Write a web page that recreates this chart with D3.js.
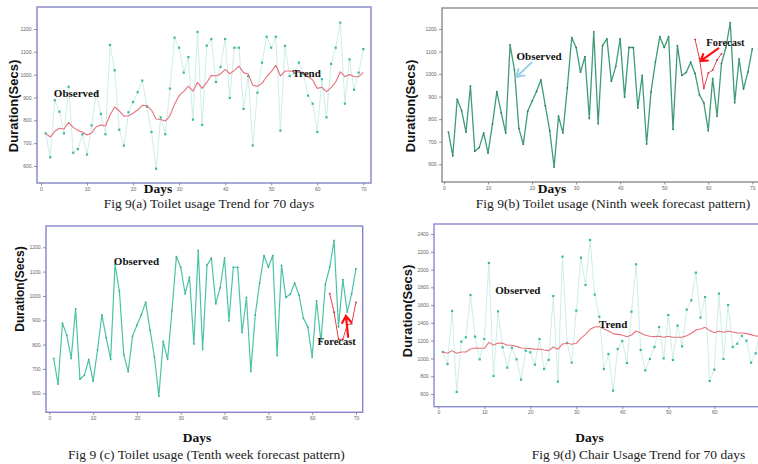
<!DOCTYPE html>
<html>
<head>
<meta charset="utf-8">
<script src="https://cdn.jsdelivr.net/npm/d3@7"></script>
<style>
  html, body { margin: 0; padding: 0; background: #ffffff; }
  svg { display: block; }
</style>
</head>
<body>
<svg id="chart" width="758" height="464"></svg>
<script>
// ---------------- DATA ----------------
const xTicks = [0, 10, 20, 30, 40, 50, 60, 70];
const toiletYTicks = [600, 700, 800, 900, 1000, 1100, 1200];
const chairYTicks = [600, 800, 1000, 1200, 1400, 1600, 1800, 2000, 2200, 2400];

// Toilet usage, days 1..70 (seconds)
const toiletObserved = [743,638,888,838,743,947,658,674,739,650,
  778,922,828,739,1130,1019,759,689,835,880,
  923,974,860,749,588,813,739,939,1162,1118,
  1009,1077,803,1187,780,1127,1156,968,1034,1156,
  898,1118,1118,850,994,690,921,1053,1166,1118,
  1166,755,1126,994,1007,1053,1003,908,873,749,
  980,813,1047,1118,1228,873,1067,934,1009,1112];

const toiletTrend = [743,727,752,765,762,791,769,756,749,736,
  745,772,780,775,823,858,841,818,820,831,
  845,866,864,845,806,804,797,820,870,908,
  927,950,928,966,940,966,997,994,1003,1023,
  1004,1019,1038,1009,1003,953,949,962,991,1013,
  1041,994,1016,1016,1012,1013,1009,991,977,940,
  945,926,943,968,1013,991,1001,991,991,1010];

// Ninth week forecast (days 57..63)
const ninthDays = [57, 58, 59, 60, 61, 62, 63];
const ninthForecast = [1154, 1070, 937, 1004, 1018, 1063, 1090];

// Tenth week forecast (days 64..70)
const tenthDays = [64, 65, 66, 67, 68, 69, 70];
const tenthForecast = [1010, 933, 822, 822, 881, 886, 974];

// Chair usage, days 1..70 (seconds)
const chairObserved = [1073,938,1534,623,1189,1238,1714,1245,990,1219,
  2074,803,1530,1125,896,1121,990,761,1088,1069,
  930,1219,881,983,1703,739,2145,1174,953,1538,
  2134,1826,2333,1718,1470,881,1050,638,1106,1196,
  949,1526,2059,1095,866,994,1129,1354,1001,1489,
  983,1369,1136,1549,1654,1965,1459,1691,746,874,
  1729,994,1601,1129,1166,1253,1200,953,1058,1350];

const chairTrend = [1073,1058,1088,1058,1073,1073,1106,1118,1114,1114,
  1181,1151,1174,1170,1148,1148,1136,1118,1114,1110,
  1103,1106,1095,1088,1129,1103,1163,1170,1159,1170,
  1226,1271,1328,1354,1358,1331,1309,1279,1271,1264,
  1245,1264,1309,1286,1260,1249,1245,1249,1238,1249,
  1238,1238,1238,1256,1283,1320,1331,1350,1313,1290,
  1309,1294,1309,1298,1286,1286,1279,1268,1253,1249];

// ---------------- DRAW ----------------
const W = 758;
const svg = d3.select("#chart");
const SERIF = "'Liberation Serif', 'Times New Roman', serif";
const SANS = "'Liberation Sans', Arial, sans-serif";

function panel(cfg) {
  const g = svg.append("g");
  const x = d3.scaleLinear().domain([0, 70]).range([cfg.x0, cfg.x70]);
  const y = d3.scaleLinear().domain([cfg.vA, cfg.vB]).range([cfg.yA, cfg.yB]);
  const f = cfg.frame;

  // frame
  g.append("rect")
    .attr("x", f.l).attr("y", f.t)
    .attr("width", f.r - f.l).attr("height", f.b - f.t)
    .attr("fill", "none")
    .attr("stroke", cfg.frameColor)
    .attr("stroke-width", 1.4);

  // axes (only ticks that fall inside the picture)
  const visibleX = xTicks.filter(t => x(t) < W - 4);
  const ya = g.append("g").attr("transform", `translate(${f.l},0)`)
    .call(d3.axisLeft(y).tickValues(cfg.yTicks).tickSize(3).tickPadding(1)
      .tickFormat(d => d + "."));
  const xa = g.append("g").attr("transform", `translate(0,${f.b})`)
    .call(d3.axisBottom(x).tickValues(visibleX).tickSize(2.5).tickPadding(1.5));
  [ya, xa].forEach(a => {
    a.select(".domain").remove();
    a.selectAll(".tick line").attr("stroke", "#777").attr("stroke-width", 0.8);
    a.selectAll(".tick text").attr("font-family", SANS).attr("font-size", 5)
      .attr("fill", "#666");
  });

  const line = d3.line().x((d, i) => x(i + 1)).y(d => y(d));
  const lineXY = d3.line().x(d => x(d[0])).y(d => y(d[1]));

  cfg.series.forEach(s => {
    g.append("path").datum(s.values)
      .attr("d", line)
      .attr("fill", "none")
      .attr("stroke", s.color)
      .attr("stroke-width", s.width)
      .attr("stroke-linejoin", "round");
    if (s.marker) {
      g.selectAll(null).data(s.values).enter().append("rect")
        .attr("x", (d, i) => x(i + 1) - s.marker.size / 2)
        .attr("y", d => y(d) - s.marker.size / 2)
        .attr("width", s.marker.size).attr("height", s.marker.size)
        .attr("fill", s.marker.color);
    }
  });

  if (cfg.forecast) {
    const pts = cfg.forecast.days.map((d, i) => [d, cfg.forecast.values[i]]);
    g.append("path").datum(pts)
      .attr("d", lineXY)
      .attr("fill", "none")
      .attr("stroke", "#e8404f")
      .attr("stroke-width", 1);
    g.selectAll(null).data(pts).enter().append("circle")
      .attr("cx", d => x(d[0])).attr("cy", d => y(d[1]))
      .attr("r", 0.9).attr("fill", "#d02838");
  }

  // annotation labels (positioned in data units)
  (cfg.labels || []).forEach(l => {
    g.append("text")
      .attr("x", x(l.day)).attr("y", y(l.value))
      .attr("text-anchor", "middle")
      .attr("dominant-baseline", "central")
      .attr("font-family", SERIF).attr("font-weight", "bold")
      .attr("font-size", l.size || 11)
      .attr("fill", "#111")
      .text(l.text);
  });

  // arrows (positioned in data units)
  (cfg.arrows || []).forEach(a => {
    const tx = x(a.tail[0]), ty = y(a.tail[1]);
    const hx = x(a.tip[0]), hy = y(a.tip[1]);
    const ang = Math.atan2(hy - ty, hx - tx);
    const L = a.head, spread = 0.6;
    const p1 = [hx - L * Math.cos(ang - spread), hy - L * Math.sin(ang - spread)];
    const p2 = [hx - L * Math.cos(ang + spread), hy - L * Math.sin(ang + spread)];
    g.append("path")
      .attr("d", `M${tx},${ty}L${hx},${hy}M${p1[0]},${p1[1]}L${hx},${hy}L${p2[0]},${p2[1]}`)
      .attr("fill", "none")
      .attr("stroke", a.color)
      .attr("stroke-width", a.width)
      .attr("stroke-linecap", "round")
      .attr("stroke-linejoin", "miter");
  });

  // axis titles
  g.append("text")
    .attr("transform", `translate(${cfg.yTitle[0]},${cfg.yTitle[1]}) rotate(-90)`)
    .attr("text-anchor", "middle").attr("dominant-baseline", "central")
    .attr("font-family", SANS).attr("font-weight", "bold")
    .attr("font-size", cfg.yTitleSize || 13).attr("fill", "#111")
    .text("Duration(Secs)");
  g.append("text")
    .attr("x", cfg.xTitle[0]).attr("y", cfg.xTitle[1])
    .attr("text-anchor", "middle")
    .attr("font-family", SERIF).attr("font-weight", "bold")
    .attr("font-size", 13.5).attr("fill", "#111")
    .text("Days");
  g.append("text")
    .attr("x", cfg.caption[0]).attr("y", cfg.caption[1])
    .attr("text-anchor", "middle")
    .attr("font-family", SERIF)
    .attr("font-size", 13.5).attr("fill", "#222")
    .text(cfg.captionText);
}

const lightObs = (vals) => ({ values: vals, color: "#cdeee8", width: 1,
  marker: { size: 2.2, color: "#38b89e" } });
const trend = (vals) => ({ values: vals, color: "#e8707c", width: 1.1 });

// (a) Toilet usage trend
panel({
  x0: 41, x70: 363.3, vA: 600, vB: 1200, yA: 166, yB: 29,
  frame: { l: 37, t: 7, r: 371, b: 183 }, frameColor: "#8585c8",
  yTicks: toiletYTicks,
  series: [lightObs(toiletObserved), trend(toiletTrend)],
  labels: [{ text: "Observed", day: 7.7, value: 920 },
           { text: "Trend", day: 57.7, value: 1007 }],
  yTitle: [13, 106], xTitle: [158, 193],
  caption: [209, 207.5], captionText: "Fig 9(a) Toilet usage Trend for 70 days"
});

// (b) Ninth week forecast
panel({
  x0: 444, x70: 752.3, vA: 600, vB: 1200, yA: 164.3, yB: 29,
  frame: { l: 442, t: 8, r: 800, b: 182 }, frameColor: "#8a8a8a",
  yTicks: toiletYTicks,
  series: [{ values: toiletObserved, color: "#3f9c76", width: 1.3,
             marker: { size: 1.5, color: "#2a7a58" } }],
  forecast: { days: ninthDays, values: ninthForecast },
  labels: [{ text: "Observed", day: 21.6, value: 1080 },
           { text: "Forecast", day: 63.9, value: 1142, size: 10.5 }],
  arrows: [{ tail: [19.9, 1051], tip: [16.5, 988], color: "#9fcfe6", width: 2, head: 8 },
           { tail: [62.3, 1114], tip: [58.3, 1059], color: "#ff1010", width: 2.2, head: 7 }],
  yTitle: [410, 106], xTitle: [552, 193],
  caption: [613, 207.5], captionText: "Fig 9(b) Toilet usage (Ninth week forecast pattern)"
});

// (c) Tenth week forecast
panel({
  x0: 49.3, x70: 356, vA: 600, vB: 1200, yA: 393.3, yB: 247.3,
  frame: { l: 46, t: 226, r: 362.7, b: 412.3 }, frameColor: "#8585c8",
  yTicks: toiletYTicks,
  series: [{ values: toiletObserved, color: "#4cc3a6", width: 1.2,
             marker: { size: 1.5, color: "#35a88c" } }],
  forecast: { days: tenthDays, values: tenthForecast },
  labels: [{ text: "Observed", day: 19.9, value: 1144 },
           { text: "Forecast", day: 65.6, value: 811, size: 10.5 }],
  arrows: [{ tail: [68.2, 832], tip: [67.7, 918], color: "#ff1010", width: 2.2, head: 8 }],
  yTitle: [20, 289], yTitleSize: 12, xTitle: [197, 441.5],
  caption: [206.5, 458.5], captionText: "Fig 9 (c) Toilet usage (Tenth week forecast pattern)"
});

// (d) Chair usage trend
panel({
  x0: 438.3, x70: 760.3, vA: 600, vB: 2400, yA: 394, yB: 234,
  frame: { l: 434, t: 224, r: 800, b: 406.7 }, frameColor: "#8a8ad0",
  yTicks: chairYTicks,
  series: [lightObs(chairObserved), trend(chairTrend)],
  labels: [{ text: "Observed", day: 17.3, value: 1770 },
           { text: "Trend", day: 38, value: 1387 }],
  yTitle: [407, 311], xTitle: [589.5, 442],
  caption: [638.5, 458.5], captionText: "Fig 9(d) Chair Usage Trend for 70 days"
});
</script>
</body>
</html>
